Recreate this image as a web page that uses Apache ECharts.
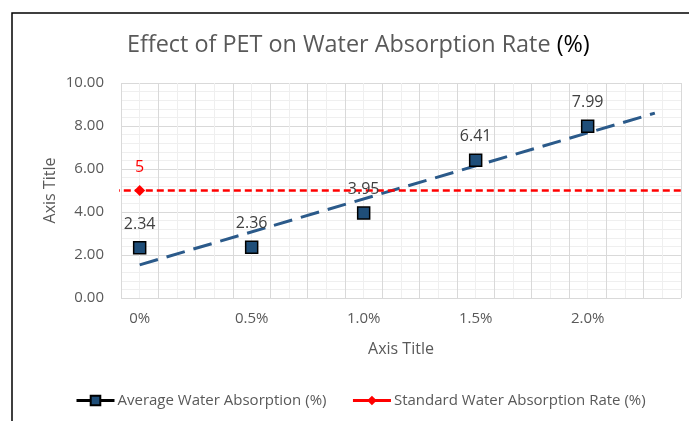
<!DOCTYPE html>
<html>
<head>
<meta charset="utf-8">
<title>Effect of PET on Water Absorption Rate</title>
<script src="https://cdn.jsdelivr.net/npm/echarts@6/dist/echarts.min.js"></script>
<style>
  html, body { margin: 0; padding: 0; background: #fff; }
  #chart { width: 689px; height: 421px; }
</style>
</head>
<body>
<div id="chart"></div>
<script>
// PET content (%) and measured values
const petContent = [0, 0.5, 1.0, 1.5, 2.0];
const avgAbsorption = [2.34, 2.36, 3.95, 6.41, 7.99];
const standardPet = [0];
const standardRate = [5];

// trendlines as drawn in the picture (end points)
const avgTrendX = [0, 2.3];
const avgTrendY = [1.54, 8.6];
const stdTrendX = [-0.12, 2.44];
const stdTrendY = [5, 5];

// tick labels
const xTickValues = [0, 0.5, 1.0, 1.5, 2.0];
const xTickLabels = ['0%', '0.5%', '1.0%', '1.5%', '2.0%'];

const FONT = 'Open Sans';
const GREY = '#595959';

function pairs(xs, ys) {
    return xs.map((x, i) => [x, ys[i]]);
}

function xLabel(v) {
    for (let i = 0; i < xTickValues.length; i++) {
        if (Math.abs(v - xTickValues[i]) < 1e-6) return xTickLabels[i];
    }
    return '';
}

const chart = echarts.init(document.getElementById('chart'), null, { renderer: 'canvas' });

const option = {
    backgroundColor: '#fff',
    animation: false,
    textStyle: { fontFamily: FONT },
    title: {
        text: '{a|Effect of PET on Water Absorption Rate }{b|(%)}',
        left: 122,
        top: 29,
        textStyle: {
            fontWeight: 'normal',
            rich: {
                a: { fontFamily: FONT, fontSize: 23.4, fontWeight: 'normal', color: GREY },
                b: { fontFamily: FONT, fontSize: 23.4, fontWeight: 'normal', color: '#000' }
            }
        }
    },
    legend: {
        left: 70,
        top: 388,
        itemWidth: 38,
        itemHeight: 12,
        itemGap: 25,
        data: ['Average Water Absorption (%)', 'Standard Water Absorption Rate (%)'],
        lineStyle: { opacity: 1, width: 3 },
        textStyle: { fontFamily: FONT, fontSize: 15, color: GREY, padding: [0, 0, 0, -2] }
    },
    grid: { left: 121, right: 8, top: 83, bottom: 123, containLabel: false },
    xAxis: {
        type: 'value',
        min: -1 / 12,
        max: 29 / 12,
        interval: 1 / 12,
        name: 'Axis Title',
        nameLocation: 'middle',
        nameGap: 43,
        nameMoveOverlap: false,
        nameTextStyle: { fontFamily: FONT, fontSize: 16, color: GREY },
        axisLine: { show: false },
        axisTick: { show: false },
        axisLabel: {
            formatter: xLabel,
            margin: 13,
            fontFamily: FONT,
            fontSize: 15,
            color: GREY
        },
        splitLine: { show: true, lineStyle: { color: ['#d9d9d9', '#efefef'], width: 1 } }
    },
    yAxis: {
        type: 'value',
        min: 0,
        max: 10,
        interval: 2,
        name: 'Axis Title',
        nameLocation: 'middle',
        nameGap: 63,
        nameMoveOverlap: false,
        nameTextStyle: { fontFamily: FONT, fontSize: 16, color: GREY },
        axisLine: { show: false },
        axisTick: { show: false },
        axisLabel: {
            formatter: v => v.toFixed(2),
            margin: 17,
            fontFamily: FONT,
            fontSize: 15,
            color: GREY
        },
        splitLine: { show: true, lineStyle: { color: '#d9d9d9', width: 1 } },
        minorTick: { show: false, splitNumber: 5 },
        minorSplitLine: { show: true, lineStyle: { color: '#efefef', width: 1 } }
    },
    graphic: [{
        type: 'polyline',
        shape: { points: [[12, 430], [12, 13], [700, 13]] },
        style: { stroke: '#000', lineWidth: 1.5, fill: null },
        silent: true
    }],
    series: [
        {
            name: 'avgTrend',
            type: 'line',
            data: pairs(avgTrendX, avgTrendY),
            showSymbol: false,
            silent: true,
            z: 2,
            lineStyle: { color: '#2b5a8a', width: 3, type: [19, 9] }
        },
        {
            name: 'stdTrend',
            type: 'line',
            data: pairs(stdTrendX, stdTrendY),
            showSymbol: false,
            clip: false,
            silent: true,
            z: 3,
            lineStyle: { color: '#ff0000', width: 2.5, type: [7, 4] }
        },
        {
            name: 'Average Water Absorption (%)',
            type: 'line',
            data: pairs(petContent, avgAbsorption),
            symbol: 'rect',
            symbolSize: 12,
            z: 5,
            lineStyle: { color: '#000', opacity: 0 },
            itemStyle: { color: '#1f4e79', borderColor: '#000', borderWidth: 1.5 },
            label: {
                show: true,
                position: 'top',
                distance: 9,
                fontFamily: FONT,
                fontSize: 16,
                color: '#404040'
            }
        },
        {
            name: 'Standard Water Absorption Rate (%)',
            type: 'line',
            data: pairs(standardPet, standardRate),
            symbol: 'diamond',
            symbolSize: 11,
            z: 5,
            lineStyle: { color: '#ff0000', opacity: 0 },
            itemStyle: { color: '#ff0000' },
            label: {
                show: true,
                position: 'top',
                distance: 10,
                fontFamily: FONT,
                fontSize: 16,
                color: '#ff0000'
            }
        }
    ]
};

chart.setOption(option);
</script>
</body>
</html>
